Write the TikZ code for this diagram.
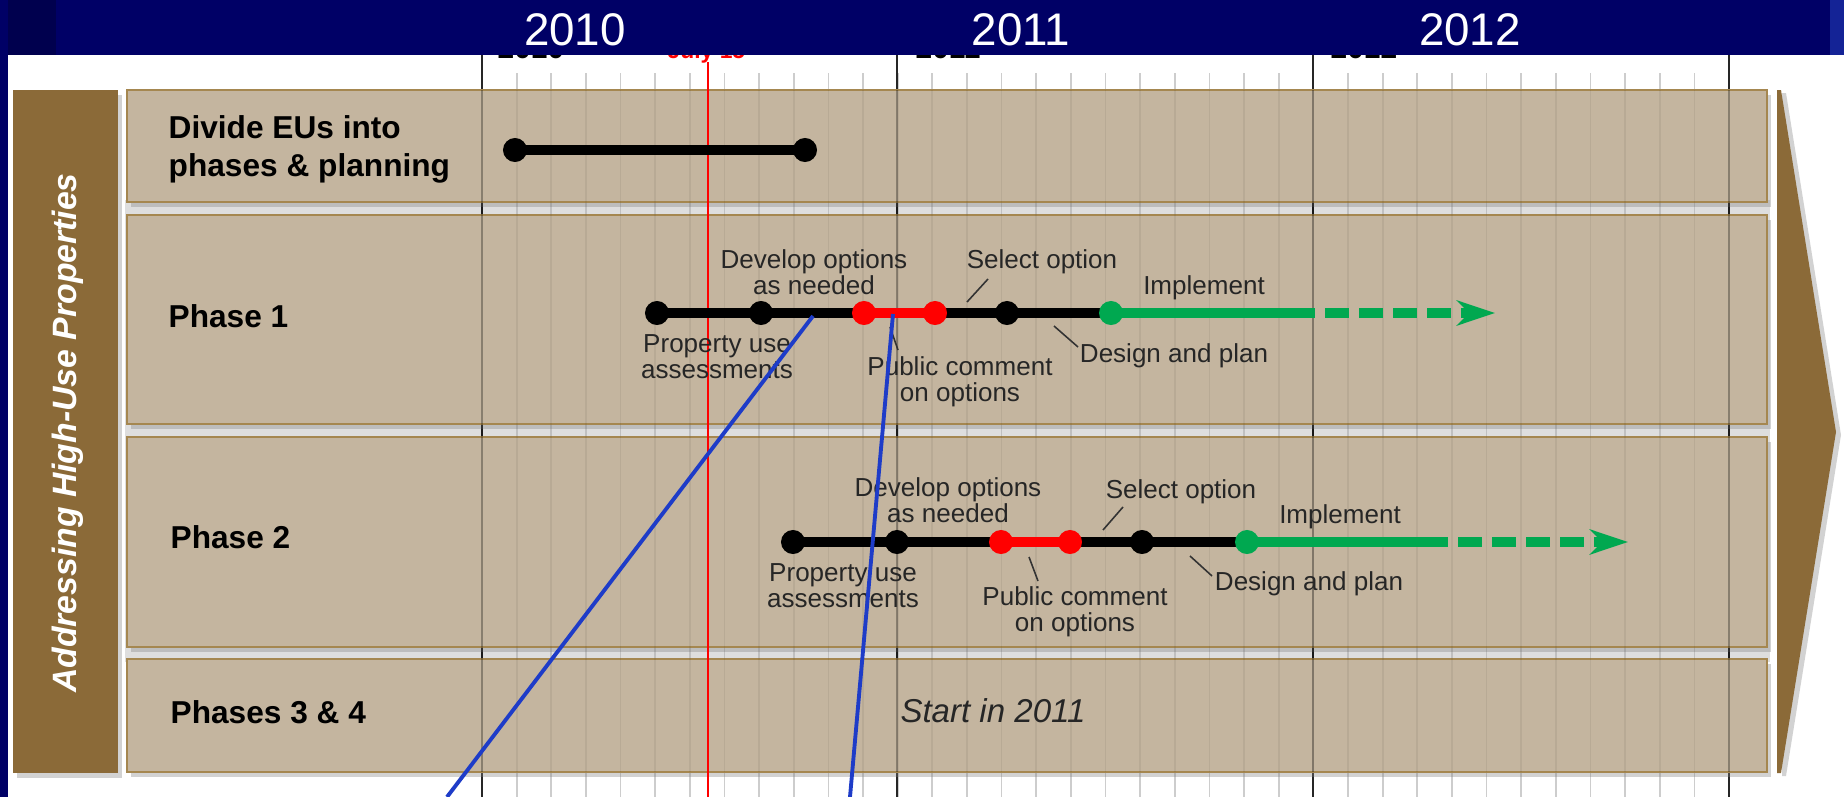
\documentclass[tikz,border=0pt]{standalone}
\usepackage{fontspec}
\setmainfont{Liberation Sans}
\usetikzlibrary{positioning,arrows.meta,shadows}
\definecolor{tlNavy}{RGB}{0,0,102}
\definecolor{tlNavyDark}{RGB}{0,0,78}
\definecolor{tlNavyLight}{RGB}{20,35,150}
\definecolor{tlTan}{RGB}{196,181,159}
\definecolor{tlEdge}{RGB}{165,135,80}
\definecolor{tlBrown}{RGB}{139,106,56}
\definecolor{tlGreen}{RGB}{0,168,80}
\definecolor{tlRed}{RGB}{255,0,0}
\definecolor{tlBlue}{RGB}{30,60,200}
\definecolor{tlTick}{RGB}{205,205,205}
\definecolor{tlGap}{RGB}{222,222,222}
\newcommand\tlTitleFont{\fontsize{9}{10.8}\selectfont\bfseries}
\newcommand\tlSmallFont{\fontsize{7.4}{7.4}\selectfont}
\newcommand\tlYearFont{\fontsize{13}{13}\selectfont}
\newcommand\tlSideFont{\fontsize{9.6}{9.6}\selectfont\bfseries\itshape}
\tikzset{
    rowbox/.style={draw=tlEdge, line width=0.7pt, fill=tlTan,
                   drop shadow={opacity=0.35, shadow xshift=0.04cm, shadow yshift=-0.05cm}},
    rowtitle/.style={anchor=west, align=left, inner sep=0pt, font=\tlTitleFont},
    tldot/.style={circle, fill=#1, inner sep=0pt, minimum size=0.24cm},
    tldot/.default=black,
    seg/.style={line width=0.1cm, draw=#1},
    seg/.default=black,
    lbl/.style={font=\tlSmallFont, align=center, inner sep=0pt, text=black!85},
    leader/.style={draw=black!80, line width=0.45pt},
    callout/.style={draw=tlBlue, line width=1.1pt},
    yearlbl/.style={font=\tlYearFont, text=white, inner sep=0pt}
}

\begin{document}
\begin{tikzpicture}[x=0.01cm, y=-0.01cm]
  \useasboundingbox (0,0) rectangle (1844,797);
  \fill[white] (0,0) rectangle (1844,797);
  \fill[tlGap] (125,200) rectangle (1770,662);

  % month ticks and year lines
  \foreach \m in {1,...,35}
    \draw[tlTick, line width=0.5pt] ({482+34.64*\m},73) -- ({482+34.64*\m},797);
  \foreach \x in {482,897,1313,1729}
    \draw[black!85, line width=0.8pt] (\x,45) -- (\x,797);

  % axis labels, mostly hidden by the band
  \begin{scope}
    \clip (0,55) rectangle (1844,90);
    \node[anchor=base west, inner sep=0pt, font=\fontsize{8.5}{8.5}\selectfont\bfseries] (ax2010) at (497,58) {2010};
    \node[anchor=base west, inner sep=0pt, font=\fontsize{8.5}{8.5}\selectfont\bfseries] (ax2011) at (915,58) {2011};
    \node[anchor=base west, inner sep=0pt, font=\fontsize{8.5}{8.5}\selectfont\bfseries] (ax2012) at (1330,58) {2012};
    \node[anchor=base west, inner sep=0pt, text=tlRed, font=\fontsize{6.5}{6.5}\selectfont\bfseries] (axJuly) at (667,58) {July 15};
  \end{scope}

  % title band
  \fill[tlNavy] (0,0) rectangle (1844,55);
  \fill[tlNavyDark] (0,0) rectangle (56,55);
  \fill[tlNavyLight] (1830,0) rectangle (1844,55);
  \fill[tlNavy] (0,0) rectangle (8,797);
  \node[yearlbl] (yr2010) at (575,30) {2010};
  \node[yearlbl] (yr2011) at (1021,30) {2011};
  \node[yearlbl] (yr2012) at (1470,30) {2012};

  % side bar and rows
  \fill[tlBrown, drop shadow={opacity=0.35, shadow xshift=0.04cm, shadow yshift=-0.05cm}] (13,90) rectangle (118,773);
  \node[rotate=90, text=white, font=\tlSideFont] (side) at (68,433) {Addressing High-Use Properties};
  \draw[rowbox] (127,90) rectangle (1767,202);
  \draw[rowbox] (127,215) rectangle (1767,424);
  \draw[rowbox] (127,437) rectangle (1767,647);
  \draw[rowbox] (127,659) rectangle (1767,772);
  \fill[tlBrown, drop shadow={opacity=0.35, shadow xshift=0.05cm, shadow yshift=-0.03cm}]
    (1777,90) -- (1781,90) -- (1836,432) -- (1781,773) -- (1777,773) -- cycle;

  % faint grid over the rows
  \foreach \m in {1,...,35}
    \draw[black, opacity=0.06, line width=0.5pt] ({482+34.64*\m},90) -- ({482+34.64*\m},772);
  \foreach \x in {482,897,1313,1729}
    \draw[black, opacity=0.3, line width=0.6pt] (\x,90) -- (\x,772);
  \draw[tlRed, line width=0.5pt] (708,62) -- (708,797);

  % row titles
  \node[rowtitle] (tDivide) at (168,149) {Divide EUs into\\phases \& planning};
  \node[rowtitle] (tPhase1) at (168,316) {Phase 1};
  \node[rowtitle] (tPhase2) at (170,537) {Phase 2};
  \node[rowtitle] (tPhase34) at (170,712) {Phases 3 \& 4};
  \node[font=\fontsize{9.4}{9.4}\selectfont\itshape, text=black!85] (start) at (993,711) {Start in 2011};

  % divide EUs
  \coordinate (d0a) at (515,150);
  \coordinate (d0b) at (805,150);
  \draw[seg] (d0a) -- (d0b);
  \node[tldot] (dot0a) at (d0a) {};
  \node[tldot] (dot0b) at (d0b) {};

  % phase 1
  \coordinate (p1a) at (657,313);
  \coordinate (p1b) at (761,313);
  \coordinate (p1c) at (864,313);
  \coordinate (p1d) at (935,313);
  \coordinate (p1e) at (1007,313);
  \coordinate (p1f) at (1111,313);
  \coordinate (p1g) at (1315,313);
  \coordinate (p1h) at (1495,313);
  \draw[seg] (p1a) -- (p1c);
  \draw[seg=tlRed] (p1c) -- (p1d);
  \draw[seg] (p1d) -- (p1f);
  \draw[seg=tlGreen] (p1f) -- (p1g);
  \draw[seg=tlGreen, dash pattern=on 0.24cm off 0.1cm, dash phase=0.24cm,
        -{Stealth[length=0.38cm, width=0.25cm, inset=0.12cm]}] (p1g) -- (p1h);
  \node[tldot] (dot1a) at (p1a) {};
  \node[tldot] (dot1b) at (p1b) {};
  \node[tldot=tlRed] (dot1c) at (p1c) {};
  \node[tldot=tlRed] (dot1d) at (p1d) {};
  \node[tldot] (dot1e) at (p1e) {};
  \node[tldot=tlGreen] (dot1f) at (p1f) {};
  \node[lbl] (p1dev) at (814,272) {Develop options\\as needed};
  \node[lbl] (p1prop) at (717,357) {Property use\\assessments};
  \node[lbl] (p1pub) at (960,382) {Public comment\\on options};
  \node[lbl] (p1sel) at (1042,262) {Select option};
  \node[lbl] (p1imp) at (1204,288) {Implement};
  \node[lbl] (p1des) at (1174,356) {Design and plan};
  \coordinate (p1selA) at (967,302);  \coordinate (p1selB) at (988,279);
  \coordinate (p1desA) at (1054,326); \coordinate (p1desB) at (1078,347);
  \coordinate (p1pubA) at (890,327);  \coordinate (p1pubB) at (898,350);
  \draw[leader] (p1selA) -- (p1selB);
  \draw[leader] (p1desA) -- (p1desB);
  \draw[leader] (p1pubA) -- (p1pubB);

  % phase 2
  \coordinate (p2a) at (793,542);
  \coordinate (p2b) at (897,542);
  \coordinate (p2c) at (1001,542);
  \coordinate (p2d) at (1070,542);
  \coordinate (p2e) at (1142,542);
  \coordinate (p2f) at (1247,542);
  \coordinate (p2g) at (1448,542);
  \coordinate (p2h) at (1628,542);
  \draw[seg] (p2a) -- (p2c);
  \draw[seg=tlRed] (p2c) -- (p2d);
  \draw[seg] (p2d) -- (p2f);
  \draw[seg=tlGreen] (p2f) -- (p2g);
  \draw[seg=tlGreen, dash pattern=on 0.24cm off 0.1cm, dash phase=0.24cm,
        -{Stealth[length=0.38cm, width=0.25cm, inset=0.12cm]}] (p2g) -- (p2h);
  \node[tldot] (dot2a) at (p2a) {};
  \node[tldot] (dot2b) at (p2b) {};
  \node[tldot=tlRed] (dot2c) at (p2c) {};
  \node[tldot=tlRed] (dot2d) at (p2d) {};
  \node[tldot] (dot2e) at (p2e) {};
  \node[tldot=tlGreen] (dot2f) at (p2f) {};
  \node[lbl] (p2dev) at (948,500) {Develop options\\as needed};
  \node[lbl] (p2prop) at (843,586) {Property use\\assessments};
  \node[lbl] (p2pub) at (1075,612) {Public comment\\on options};
  \node[lbl] (p2sel) at (1181,492) {Select option};
  \node[lbl] (p2imp) at (1340,517) {Implement};
  \node[lbl] (p2des) at (1309,584) {Design and plan};
  \coordinate (p2selA) at (1103,530); \coordinate (p2selB) at (1123,507);
  \coordinate (p2desA) at (1190,556); \coordinate (p2desB) at (1212,576);
  \coordinate (p2pubA) at (1029,557); \coordinate (p2pubB) at (1038,581);
  \draw[leader] (p2selA) -- (p2selB);
  \draw[leader] (p2desA) -- (p2desB);
  \draw[leader] (p2pubA) -- (p2pubB);

  % blue pointers
  \coordinate (endA) at (447,797);
  \coordinate (endB) at (850,797);
  \coordinate (startA) at (813,316);
  \coordinate (startB) at (893,314);
  \draw[callout] (startA) -- (endA);
  \draw[callout] (startB) -- (endB);
\end{tikzpicture}
\end{document}
